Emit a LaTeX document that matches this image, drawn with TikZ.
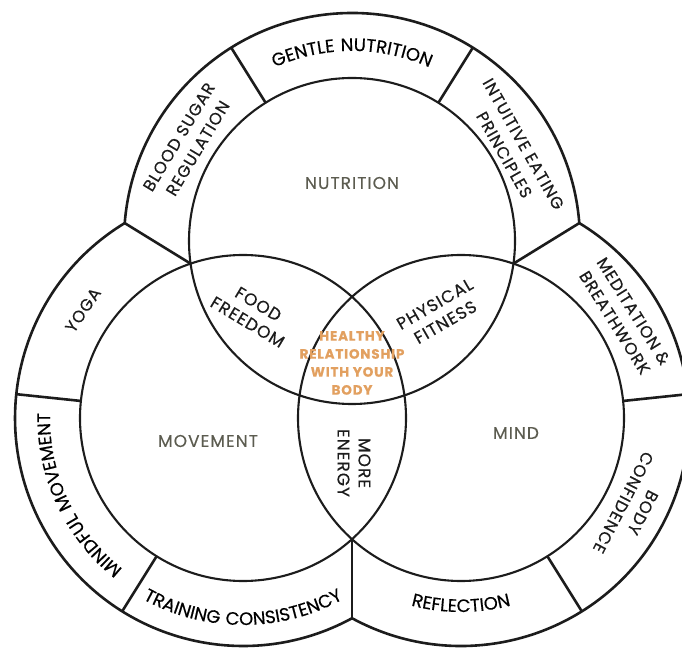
\documentclass[tikz,border=0pt]{standalone}
\usepackage{fontspec}
\setmainfont{Poppins}
\newfontfamily\popfam{Poppins}[LetterSpace=6, FakeBold=0.4]
\usetikzlibrary{calc,decorations.text}
\newcommand\ringfnt{\popfam\fontsize{16.5}{22}\selectfont}
\newcommand\arcfnt{\popfam\fontsize{18}{22}\selectfont}
\newcommand\lensfnt{\popfam\fontsize{17}{21}\selectfont}
\newcommand\corefnt{\popfam\bfseries\fontsize{13.5}{18}\selectfont}
\definecolor{ink}{RGB}{28,28,28}
\definecolor{areatxt}{RGB}{92,92,80}
\definecolor{coretxt}{RGB}{226,160,96}

\begin{document}
\begin{tikzpicture}[x=1pt, y=1pt, line join=round,
  ringline/.style={draw=ink, line width=2.6pt},
  circline/.style={draw=ink, line width=2.1pt},
  ringtag/.style={font=\ringfnt, text=ink, align=center, inner sep=0pt},
  lenstag/.style={font=\lensfnt, text=ink, align=center, inner sep=0pt},
  areatag/.style={font=\lensfnt, text=areatxt, inner sep=0pt},
  arctext/.style={decorate, decoration={text along path, text align=center,
    text={|\arcfnt|#1}}}]
  \useasboundingbox (0,0) rectangle (682,648);
  \clip (0,0) rectangle (682,648);
  % 三个内圆 r=163, 外环 R=228
  \coordinate (N) at (352,407);
  \coordinate (M) at (243,230);
  \coordinate (D) at (461,230);
  % 内圆两两交点
  \coordinate (NMi) at (190.6,384.35);
  \coordinate (NDi) at (513.4,384.35);
  \coordinate (MDi) at (352,108.8);
  % 外圆两两交点
  \coordinate (NMo) at (124.7,424.9);
  \coordinate (NDo) at (579.3,424.9);
  \coordinate (MDo) at (352,29.74);
  % 外轮廓: 三段外圆弧
  \draw[ringline] (NDo) arc[start angle=4.5, end angle=175.5, radius=228]
    arc[start angle=121.26, end angle=298.56, radius=228]
    arc[start angle=-118.56, end angle=58.74, radius=228] -- cycle;
  % 环与环之间的分隔
  \draw[ringline] (NMo) -- (NMi);
  \draw[ringline] (NDo) -- (NDi);
  \draw[ringline] (MDo) -- (MDi);
  % 环内分段
  \foreach \c/\a in {N/58, N/122, M/174, M/238, D/6, D/-58}
    \draw[ringline] ($(\c)+(\a:163)$) -- ($(\c)+(\a:228)$);
  % 内圆
  \draw[circline] (N) circle[radius=163];
  \draw[circline] (M) circle[radius=163];
  \draw[circline] (D) circle[radius=163];

  % 弧形文字
  \path[arctext={GENTLE NUTRITION}] ($(N)+(150:190)$) arc[start angle=150, end angle=30, radius=190];
  \path[arctext={MINDFUL MOVEMENT}] ($(M)+(260:193)$) arc[start angle=260, end angle=150, radius=193];
  \path[arctext={TRAINING CONSISTENCY}] ($(M)+(215:207)$) arc[start angle=215, end angle=325, radius=207];
  \path[arctext={REFLECTION}] ($(D)+(225:194)$) arc[start angle=225, end angle=315, radius=194];

  % 环内斜排文字
  \node[ringtag, rotate=59] (blood) at ($(N)+(149:191)$) {BLOOD SUGAR\\REGULATION};
  \node[ringtag, rotate=-60.5] (intuit) at ($(N)+(29.5:186)$) {INTUITIVE EATING\\PRINCIPLES};
  \node[ringtag, rotate=56] (yoga) at ($(M)+(146:193)$) {YOGA};
  \node[ringtag, rotate=-58] (medit) at ($(D)+(31.8:192)$) {MEDITATION \&\\BREATHWORK};
  \node[ringtag, rotate=-117.5] (bodyconf) at ($(D)+(-27.5:194)$) {BODY\\CONFIDENCE};

  % 圆内标题
  \node[areatag] (nutri) at (352,465) {NUTRITION};
  \node[areatag] (move) at (208,207) {MOVEMENT};
  \node[areatag] (mind) at (516,215) {MIND};

  % 两两相交部分
  \node[lenstag, rotate=-31] (food) at (253,335) {FOOD\\FREEDOM};
  \node[lenstag, rotate=30] (phys) at (440,335) {PHYSICAL\\FITNESS};
  \node[lenstag, rotate=-90] (energy) at (354,185) {MORE\\ENERGY};

  % 中心
  \node[font=\corefnt, text=coretxt, align=center, inner sep=0pt] (core) at (352,285)
    {HEALTHY\\RELATIONSHIP\\WITH YOUR\\BODY};
\end{tikzpicture}
\end{document}
